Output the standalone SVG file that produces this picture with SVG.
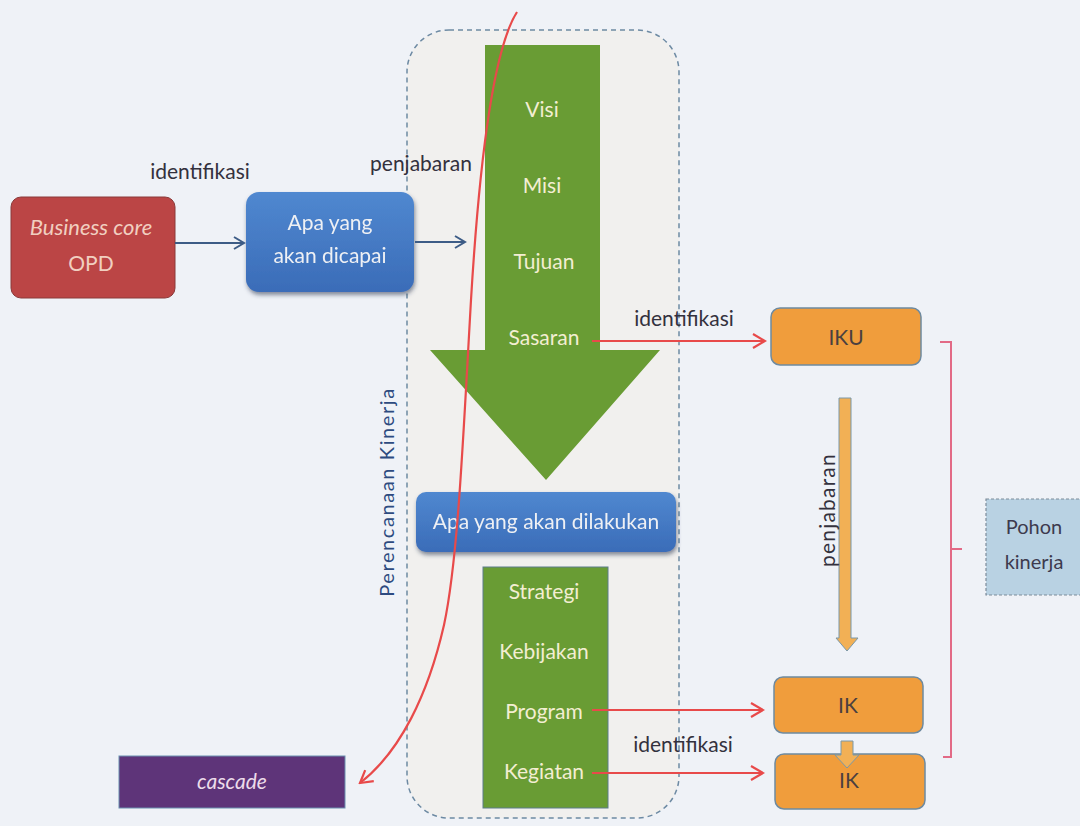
<svg xmlns="http://www.w3.org/2000/svg" width="1080" height="826" viewBox="0 0 1080 826">
  <style>
    text { font-family: Lato, "Open Sans", "Liberation Sans", sans-serif; font-size: 21px; text-anchor: middle; }
    .lbl { fill: #33313d; }
    .light { fill: #f3eed2; }
    .white { fill: #eef0f4; }
    .dark { fill: #4a4040; }
    .green { fill: #699c34; }
    .orange { fill: #f09d3c; stroke: #6e8aa0; stroke-width: 1.5; }
    .blue-link { fill: none; stroke: #3d5c86; stroke-width: 2; }
    .red-link { fill: none; stroke: #e84a4a; stroke-width: 2.2; }
  </style>
  <defs>
    <marker id="openBlue" markerWidth="14" markerHeight="14" refX="12" refY="7" orient="auto" markerUnits="userSpaceOnUse">
      <path d="M2,1 L12,7 L2,13" fill="none" stroke="#3d5c86" stroke-width="2"/>
    </marker>
    <marker id="openRed" markerWidth="16" markerHeight="16" refX="14" refY="8" orient="auto" markerUnits="userSpaceOnUse">
      <path d="M2,1 L14,8 L2,15" fill="none" stroke="#e84a4a" stroke-width="2.2"/>
    </marker>
    <linearGradient id="blueFill" x1="0" y1="0" x2="0" y2="1">
      <stop offset="0" stop-color="#5088d0"/>
      <stop offset="1" stop-color="#3a6cb8"/>
    </linearGradient>
    <filter id="shadow" x="-10%" y="-10%" width="120%" height="130%">
      <feDropShadow dx="1" dy="3" stdDeviation="2" flood-color="#2a3550" flood-opacity="0.55"/>
    </filter>
  </defs>

  <!-- page -->
  <rect x="0" y="0" width="1080" height="826" fill="#eff2f7"/>

  <!-- planning band -->
  <g id="perencanaan">
    <rect x="407" y="30" width="272" height="788" rx="42" fill="#f1f0ee" stroke="#6d8aa3" stroke-width="1.5" stroke-dasharray="5 4"/>
    <text x="394" y="492" transform="rotate(-90 394 492)" fill="#2d4b80" style="font-size:20px;letter-spacing:1.6px">Perencanaan Kinerja</text>
  </g>

  <!-- upper green arrow: Visi to Sasaran -->
  <g id="arah-atas">
    <path d="M485,45 H600 V350 H660 L546,480 L430,350 H485 Z" class="green"/>
    <text x="542" y="117" class="light">Visi</text>
    <text x="542" y="193" class="light">Misi</text>
    <text x="544" y="269" class="light">Tujuan</text>
    <text x="544" y="345" class="light">Sasaran</text>
  </g>

  <!-- lower green block: Strategi to Kegiatan -->
  <g id="arah-bawah">
    <rect x="483" y="567" width="125" height="241" class="green" stroke="#5d7c8a" stroke-width="1"/>
    <text x="544" y="599" class="light">Strategi</text>
    <text x="544" y="659" class="light">Kebijakan</text>
    <text x="544" y="719" class="light">Program</text>
    <text x="544" y="779" class="light">Kegiatan</text>
  </g>

  <g id="business-core">
    <rect x="11" y="197" width="164" height="101" rx="10" fill="#bb4545" stroke="#8a3a3a" stroke-width="1"/>
    <text x="91" y="235" fill="#f1cfc0" font-style="italic" style="font-size:22px">Business core</text>
    <text x="91" y="271" fill="#f1cfc0">OPD</text>
  </g>

  <g id="apa-dicapai" filter="url(#shadow)">
    <rect x="246" y="192" width="168" height="100" rx="13" fill="url(#blueFill)"/>
    <text x="330" y="230" class="white">Apa yang</text>
    <text x="330" y="263" class="white">akan dicapai</text>
  </g>

  <g id="apa-dilakukan" filter="url(#shadow)">
    <rect x="416" y="492" width="260" height="60" rx="10" fill="url(#blueFill)"/>
    <text x="546" y="529" class="white">Apa yang akan dilakukan</text>
  </g>

  <g id="iku">
    <rect x="771" y="308" width="150" height="57" rx="9" class="orange"/>
    <text x="846" y="345" class="dark">IKU</text>
  </g>

  <g id="ik-program">
    <rect x="774" y="677" width="149" height="56" rx="9" class="orange"/>
    <text x="848" y="713" class="dark">IK</text>
  </g>

  <g id="ik-kegiatan">
    <rect x="775" y="754" width="150" height="55" rx="9" class="orange"/>
    <text x="849" y="788" class="dark">IK</text>
  </g>

  <g id="pohon-kinerja">
    <rect x="986" y="499" width="100" height="96" fill="#b9d2e3" stroke="#7d8c9a" stroke-width="1.2" stroke-dasharray="3 2"/>
    <text x="1034" y="534" fill="#3d3a4e" style="font-size:20px">Pohon</text>
    <text x="1034" y="569" fill="#3d3a4e" style="font-size:20px">kinerja</text>
  </g>

  <g id="cascade">
    <rect x="119" y="756" width="226" height="52" fill="#5e3479" stroke="#6a8fb0" stroke-width="1"/>
    <text x="232" y="789" fill="#ecdcea" font-style="italic">cascade</text>
  </g>

  <g id="connectors">
    <!-- identification and breakdown on the left -->
    <line x1="175" y1="243" x2="244" y2="243" class="blue-link" marker-end="url(#openBlue)"/>
    <line x1="415" y1="242" x2="465" y2="242" class="blue-link" marker-end="url(#openBlue)"/>
    <text x="200" y="179" class="lbl">identifikasi</text>
    <text x="421" y="171" class="lbl">penjabaran</text>

    <!-- indicators derived from Sasaran, Program, Kegiatan -->
    <line x1="592" y1="341" x2="765" y2="341" class="red-link" marker-end="url(#openRed)"/>
    <line x1="592" y1="710" x2="763" y2="710" class="red-link" marker-end="url(#openRed)"/>
    <line x1="592" y1="773" x2="763" y2="773" class="red-link" marker-end="url(#openRed)"/>
    <text x="684" y="326" class="lbl">identifikasi</text>
    <text x="683" y="752" class="lbl">identifikasi</text>

    <!-- cascade curve -->
    <path d="M517,12 C494,48 480,150 471,300 C463,440 458,560 444,625 C428,695 400,752 360,783" class="red-link" marker-end="url(#openRed)"/>

    <!-- penjabaran arrow between IKU and IK -->
    <path d="M839,398 H851 V638 H858 L847,651 L836,638 H839 Z" fill="#f2b055" stroke="#7a98a8" stroke-width="1"/>
    <text x="835" y="510" transform="rotate(-90 835 510)" class="lbl" style="font-size:21px;letter-spacing:1.2px">penjabaran</text>

    <!-- small arrow between the two IK boxes -->
    <path d="M841,741 H853 V755 H859 L847,768 L835,755 H841 Z" fill="#f2b055" stroke="#7a98a8" stroke-width="1"/>

    <!-- bracket grouping the indicators -->
    <path d="M940,342 H951 V757 H943" fill="none" stroke="#e26a86" stroke-width="2"/>
    <line x1="951" y1="549" x2="962" y2="549" stroke="#e26a86" stroke-width="2"/>
  </g>
</svg>
